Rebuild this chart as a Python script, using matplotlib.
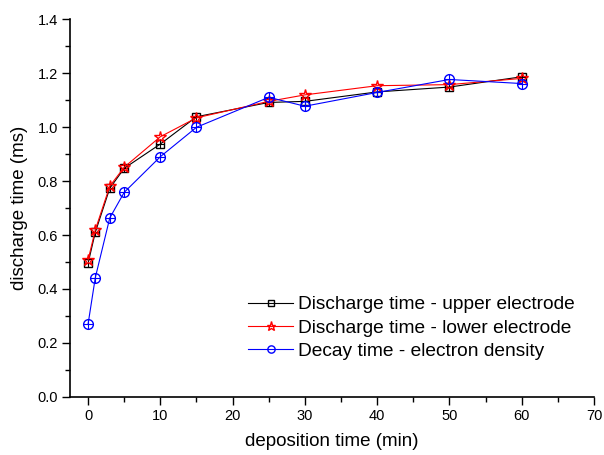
import numpy as np
import matplotlib
matplotlib.use("Agg")
import matplotlib.pyplot as plt
from matplotlib.ticker import MultipleLocator, FormatStrFormatter

plt.rcParams['font.family'] = ['Liberation Sans', 'DejaVu Sans']

# deposition time (min)
dep_time = [0, 1, 3, 5, 10, 15, 25, 30, 40, 50, 60]

# discharge / decay times (ms)
upper = [0.495, 0.610, 0.773, 0.847, 0.937, 1.038, 1.091, 1.095, 1.130, 1.148, 1.186]
lower = [0.507, 0.619, 0.781, 0.851, 0.964, 1.034, 1.095, 1.119, 1.153, 1.157, 1.180]
decay = [0.270, 0.442, 0.663, 0.758, 0.890, 0.999, 1.110, 1.077, 1.128, 1.176, 1.161]

series_labels = ["Discharge time - upper electrode",
                 "Discharge time - lower electrode",
                 "Decay time - electron density"]


fig = plt.figure(figsize=(6.04, 4.55), dpi=100)
ax = fig.add_axes([0.1159, 0.1275, 0.8675, 0.8307])

lw = 0.8
ax.plot(dep_time, upper, color='black', lw=lw, marker='s', ms=6,
        mfc='none', mec='black', mew=1.0, label=series_labels[0])
ax.plot(dep_time, upper, ls='none', marker='+', ms=6, mec='black', mew=0.8)
ax.plot(dep_time, lower, color='red', lw=lw, marker='*', ms=9,
        mfc='none', mec='red', mew=1.0, label=series_labels[1])
ax.plot(dep_time, decay, color='blue', lw=lw, marker='o', ms=7,
        mfc='none', mec='blue', mew=1.0, label=series_labels[2])
ax.plot(dep_time, decay, ls='none', marker='+', ms=7, mec='blue', mew=0.8)

ax.set_xlim(-2.5, 70)
ax.set_ylim(0, 1.4)
ax.xaxis.set_major_locator(MultipleLocator(10))
ax.xaxis.set_minor_locator(MultipleLocator(5))
ax.yaxis.set_major_locator(MultipleLocator(0.2))
ax.yaxis.set_minor_locator(MultipleLocator(0.1))
ax.yaxis.set_major_formatter(FormatStrFormatter('%.1f'))

for side in ['top', 'right']:
    ax.spines[side].set_visible(False)
for side in ['left', 'bottom']:
    ax.spines[side].set_linewidth(1.2)

ax.tick_params(which='major', direction='out', length=6, width=1.0,
               labelsize=10.5, colors='black', pad=2.5)
ax.tick_params(which='minor', direction='out', length=3.5, width=1.0)

ax.set_xlabel("deposition time (min)", fontsize=13.5, labelpad=7)
ax.set_ylabel("discharge time (ms)", fontsize=13.5, labelpad=7)

ax.legend(loc='center left', bbox_to_anchor=(0.326, 0.183), frameon=False,
          fontsize=13.8, handlelength=2.3, handletextpad=0.3, labelspacing=0.3,
          borderaxespad=0, markerscale=0.75)

fig.savefig("out.png", dpi=100)
